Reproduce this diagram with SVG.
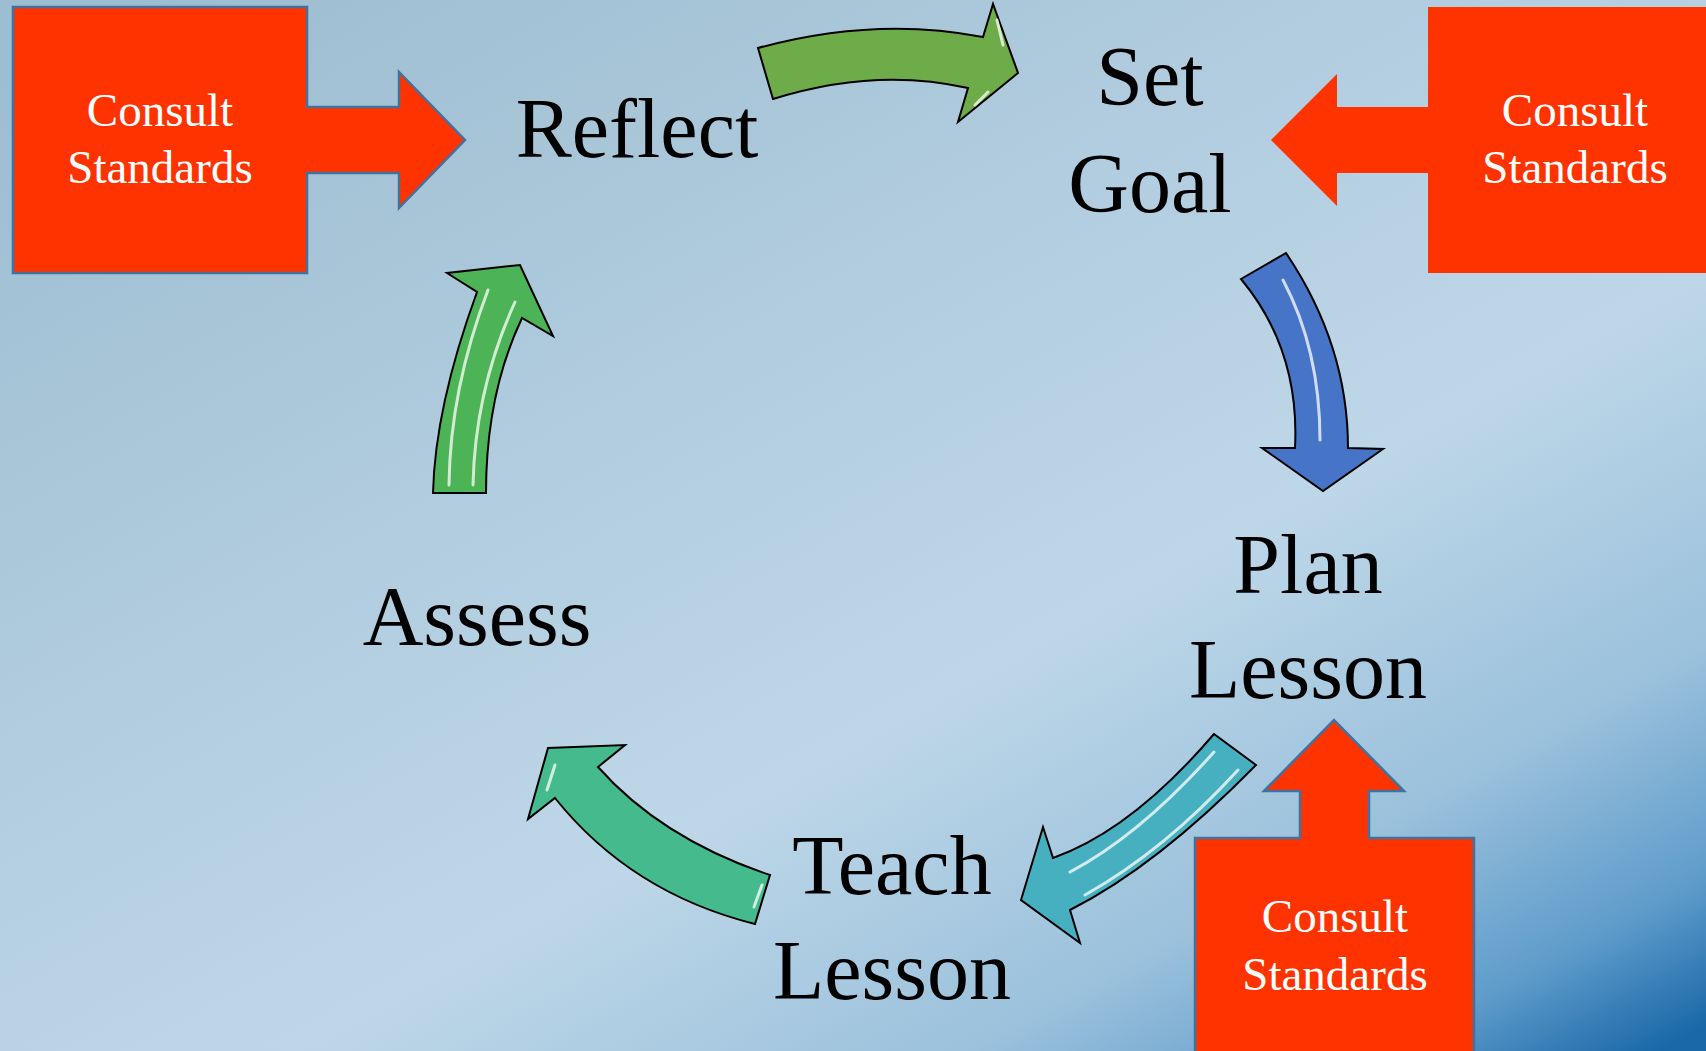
<svg xmlns="http://www.w3.org/2000/svg" width="1706" height="1051" viewBox="0 0 1706 1051">
  <defs>
    <linearGradient id="bg" gradientUnits="userSpaceOnUse" x1="500" y1="-200" x2="1300" y2="1250">
      <stop offset="0" stop-color="#9dbdd0"/>
      <stop offset="0.6" stop-color="#bed7e8"/>
      <stop offset="0.8" stop-color="#9bc1dc"/>
      <stop offset="0.92" stop-color="#5f9ccb"/>
      <stop offset="1" stop-color="#1a68a8"/>
    </linearGradient>
    <style>
      .lbl { font-family: "Liberation Serif", "Times New Roman", serif; font-size: 84px; fill: #000; text-anchor: middle; }
      .cs { font-family: "Liberation Serif", "Times New Roman", serif; font-size: 47px; fill: #fff; text-anchor: middle; }
      .red { fill: #ff3300; stroke: #41719c; stroke-width: 2.5; stroke-linejoin: miter; }
      .redns { fill: #ff3300; stroke: none; }
      .arr { stroke: #000; stroke-width: 2; stroke-linejoin: miter; }
      .hl { fill: none; stroke: #ffffff; stroke-opacity: 0.75; stroke-width: 3; stroke-linecap: round; }
    </style>
  </defs>

  <rect x="0" y="0" width="1706" height="1051" fill="url(#bg)"/>

  <g id="connectors">
    <!-- Reflect -> Set Goal -->
    <g id="arrow-reflect-setgoal">
      <path class="arr" fill="#6eab49" d="M758,48 Q875,16 983,37 L993,4 L1018,73 L958,122 L968,88 Q875,67 773,99 Z"/>
      <path class="hl" stroke-opacity="0.5" d="M997,20 L1003,45"/>
      <path class="hl" stroke-opacity="0.5" d="M975,105 L988,92"/>
    </g>
    <!-- Set Goal -> Plan Lesson -->
    <g id="arrow-setgoal-plan">
      <path class="arr" fill="#4674c6" d="M1241,279 L1286,253 Q1348,345 1348,448 L1383,449 L1323,491 L1262,448 L1295,448 Q1300,350 1241,279 Z"/>
      <path class="hl" stroke-opacity="0.45" d="M1283,280 Q1320,350 1320,440"/>
    </g>
    <!-- Plan Lesson -> Teach Lesson -->
    <g id="arrow-plan-teach">
      <path class="arr" fill="#47b0c0" d="M1214,734 L1256,765 Q1157,866 1070,910 L1080,943 L1021,900 L1043,827 L1053,858 Q1132,830 1214,734 Z"/>
      <path class="hl" stroke-opacity="0.6" d="M1214,752 Q1140,835 1070,872"/>
      <path class="hl" stroke-opacity="0.6" d="M1238,770 Q1165,850 1085,895"/>
    </g>
    <!-- Teach Lesson -> Assess -->
    <g id="arrow-teach-assess">
      <path class="arr" fill="#45bb8d" d="M770,875 L755,924 Q631,893 555,798 L528,819 L548,748 L625,745 L598,767 Q662,839 770,875 Z"/>
      <path class="hl" stroke-opacity="0.7" d="M555,765 L547,790"/>
      <path class="hl" stroke-opacity="0.7" d="M762,885 L754,907"/>
    </g>
    <!-- Assess -> Reflect -->
    <g id="arrow-assess-reflect">
      <path class="arr" fill="#4cb456" d="M433,493 L486,493 Q486,394 522,318 L553,336 L520,265 L447,273 L477,292 Q435,407 433,493 Z"/>
      <path class="hl" stroke-opacity="0.85" d="M449,485 Q450,390 488,290"/>
      <path class="hl" stroke-opacity="0.85" d="M473,485 Q475,390 515,302"/>
    </g>
  </g>

  <g id="node-reflect">
    <text class="lbl" x="637" y="157">Reflect</text>
  </g>
  <g id="node-setgoal">
    <text class="lbl" x="1150" y="105">Set</text>
    <text class="lbl" x="1150" y="212">Goal</text>
  </g>
  <g id="node-plan">
    <text class="lbl" x="1308" y="593">Plan</text>
    <text class="lbl" x="1308" y="698">Lesson</text>
  </g>
  <g id="node-teach">
    <text class="lbl" x="892" y="894">Teach</text>
    <text class="lbl" x="892" y="999">Lesson</text>
  </g>
  <g id="node-assess">
    <text class="lbl" x="477" y="645">Assess</text>
  </g>

  <g id="node-consult-1">
    <path class="red" d="M13,7 L307,7 L307,107 L399,107 L399,72 L465,140 L399,208 L399,173 L307,173 L307,273 L13,273 Z"/>
    <text class="cs" x="160" y="126">Consult</text>
    <text class="cs" x="160" y="183">Standards</text>
  </g>
  <g id="node-consult-2">
    <path class="redns" d="M1428,7 L1708,7 L1708,273 L1428,273 L1428,173 L1337,173 L1337,206 L1271,140 L1337,74 L1337,107 L1428,107 Z"/>
    <text class="cs" x="1575" y="126">Consult</text>
    <text class="cs" x="1575" y="183">Standards</text>
  </g>
  <g id="node-consult-3">
    <path class="red" d="M1195,1053 L1195,838 L1300,838 L1300,791 L1264,791 L1334,720 L1404,791 L1369,791 L1369,838 L1474,838 L1474,1053 Z"/>
    <text class="cs" x="1335" y="932">Consult</text>
    <text class="cs" x="1335" y="990">Standards</text>
  </g>
</svg>
